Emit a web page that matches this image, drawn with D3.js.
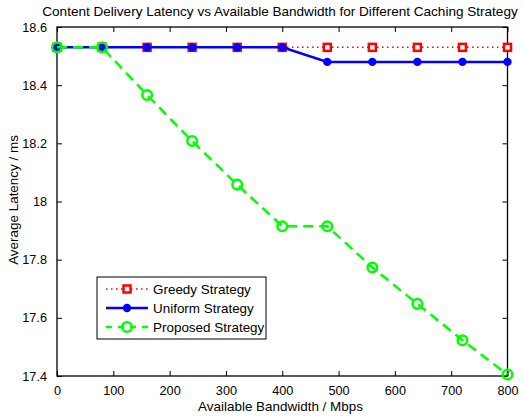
<!DOCTYPE html>
<html><head><meta charset="utf-8">
<script src="https://cdn.jsdelivr.net/npm/d3@7"></script>
<style>body{margin:0;background:#fff}text{font-family:"Liberation Sans",Arial,sans-serif}</style>
</head><body><svg id="c" width="522" height="420"></svg>
<script>
const bandwidth = [0, 80, 160, 240, 320, 400, 480, 560, 640, 720, 800];
const greedy   = [18.53, 18.53, 18.53, 18.53, 18.53, 18.53, 18.53, 18.53, 18.53, 18.53, 18.53];
const uniform  = [18.53, 18.53, 18.53, 18.53, 18.53, 18.53, 18.48, 18.48, 18.48, 18.48, 18.48];
const proposed = [18.53, 18.53, 18.366, 18.208, 18.058, 17.915, 17.915, 17.773, 17.648, 17.523, 17.405];
const xTicks = [0, 100, 200, 300, 400, 500, 600, 700, 800];
const yTicks = [17.4, 17.6, 17.8, 18, 18.2, 18.4, 18.6];
const seriesNames = ["Greedy Strategy", "Uniform Strategy", "Proposed Strategy"];

const svg = d3.select("#c");
const L = 57, R = 507.5, T = 27, B = 376;
const x = d3.scaleLinear().domain([0, 800]).range([L, R]);
const y = d3.scaleLinear().domain([17.4, 18.6]).range([B, T]);
const TICK_FS = 12.7;

// fit a text element's font size to a target width
function fit(sel, targetW) {
  const n = sel.node();
  const fs = parseFloat(sel.attr("font-size"));
  const w = n.getComputedTextLength();
  if (w > 0) sel.attr("font-size", fs * targetW / w);
  return parseFloat(sel.attr("font-size"));
}

const fmtY = d => String(+d.toFixed(1));
svg.append("g").attr("transform", `translate(0,${B})`)
  .call(d3.axisBottom(x).tickValues(xTicks).tickSizeInner(-5).tickSizeOuter(0).tickPadding(10))
  .call(g => { g.select(".domain").remove(); g.selectAll("text").attr("font-size", TICK_FS).attr("fill", "#000"); });
svg.append("g").attr("transform", `translate(0,${T})`)
  .call(d3.axisTop(x).tickValues(xTicks).tickSizeInner(-5).tickSizeOuter(0).tickFormat(""))
  .call(g => g.select(".domain").remove());
svg.append("g").attr("transform", `translate(${L},0)`)
  .call(d3.axisLeft(y).tickValues(yTicks).tickSizeInner(-5).tickSizeOuter(0).tickPadding(10).tickFormat(fmtY))
  .call(g => { g.select(".domain").remove(); g.selectAll("text").attr("font-size", TICK_FS).attr("fill", "#000"); });
svg.append("g").attr("transform", `translate(${R},0)`)
  .call(d3.axisRight(y).tickValues(yTicks).tickSizeInner(-5).tickSizeOuter(0).tickFormat(""))
  .call(g => g.select(".domain").remove());
svg.selectAll(".tick line").attr("stroke", "#000").attr("stroke-width", 1);
svg.append("rect").attr("x", L).attr("y", T).attr("width", R - L).attr("height", B - T)
  .attr("fill", "none").attr("stroke", "#000").attr("stroke-width", 1.3);

const line = d3.line().x((d, i) => x(bandwidth[i])).y(d => y(d));

// Greedy
svg.append("path").datum(greedy).attr("d", line).attr("fill", "none")
  .attr("stroke", "#ff0000").attr("stroke-width", 1.5).attr("stroke-dasharray", "1.5,3.5");
svg.append("g").selectAll("rect").data(greedy).join("rect")
  .attr("x", (d, i) => x(bandwidth[i]) - 3.5).attr("y", d => y(d) - 3.5)
  .attr("width", 7).attr("height", 7).attr("fill", "#fff").attr("stroke", "#ff0000").attr("stroke-width", 2.5);
// Uniform
svg.append("path").datum(uniform).attr("d", line).attr("fill", "none")
  .attr("stroke", "#0000ff").attr("stroke-width", 2.5);
svg.append("g").selectAll("circle").data(uniform).join("circle")
  .attr("cx", (d, i) => x(bandwidth[i])).attr("cy", d => y(d)).attr("r", 4.2).attr("fill", "#0000ff");
// Proposed
svg.append("path").datum(proposed).attr("d", line).attr("fill", "none")
  .attr("stroke", "#00ff00").attr("stroke-width", 2.5).attr("stroke-dasharray", "10,6");
svg.append("g").selectAll("circle").data(proposed).join("circle")
  .attr("cx", (d, i) => x(bandwidth[i])).attr("cy", d => y(d)).attr("r", 4.8)
  .attr("fill", "none").attr("stroke", "#00ff00").attr("stroke-width", 2.5);

// Titles
const title = svg.append("text").attr("x", 280).attr("y", 16).attr("text-anchor", "middle").attr("font-size", 12.5)
  .text("Content Delivery Latency vs Available Bandwidth for Different Caching Strategy");
fit(title, 476);
const xl = svg.append("text").attr("x", 280.5).attr("y", 411).attr("text-anchor", "middle").attr("font-size", 12.5)
  .text("Available Bandwidth / Mbps");
const labFS = fit(xl, 165);
svg.append("text").attr("transform", "translate(18,200) rotate(-90)").attr("text-anchor", "middle").attr("font-size", labFS)
  .text("Average Latency / ms");

// Legend
const lg = svg.append("g");
lg.append("rect").attr("x", 97).attr("y", 277).attr("width", 169).attr("height", 62)
  .attr("fill", "#fff").attr("stroke", "#000").attr("stroke-width", 1);
const rows = [289, 308, 327];
const lx1 = 106, lx2 = 148, lm = 127;
lg.append("line").attr("x1", lx1).attr("x2", lx2).attr("y1", rows[0]).attr("y2", rows[0])
  .attr("stroke", "#ff0000").attr("stroke-width", 1.5).attr("stroke-dasharray", "1.5,3.5");
lg.append("rect").attr("x", lm - 3.5).attr("y", rows[0] - 3.5).attr("width", 7).attr("height", 7)
  .attr("fill", "#fff").attr("stroke", "#ff0000").attr("stroke-width", 2.5);
lg.append("line").attr("x1", lx1).attr("x2", lx2).attr("y1", rows[1]).attr("y2", rows[1])
  .attr("stroke", "#0000ff").attr("stroke-width", 2.5);
lg.append("circle").attr("cx", lm).attr("cy", rows[1]).attr("r", 4.2).attr("fill", "#0000ff");
lg.append("line").attr("x1", lx1).attr("x2", lx2).attr("y1", rows[2]).attr("y2", rows[2])
  .attr("stroke", "#00ff00").attr("stroke-width", 2.5).attr("stroke-dasharray", "6,6");
lg.append("circle").attr("cx", lm).attr("cy", rows[2]).attr("r", 4.8)
  .attr("fill", "none").attr("stroke", "#00ff00").attr("stroke-width", 2.5);
lg.selectAll("text.l").data(seriesNames).join("text").attr("class", "l")
  .attr("x", 153).attr("y", (d, i) => rows[i] + 4.5).attr("font-size", labFS).text(d => d);
</script></body></html>
